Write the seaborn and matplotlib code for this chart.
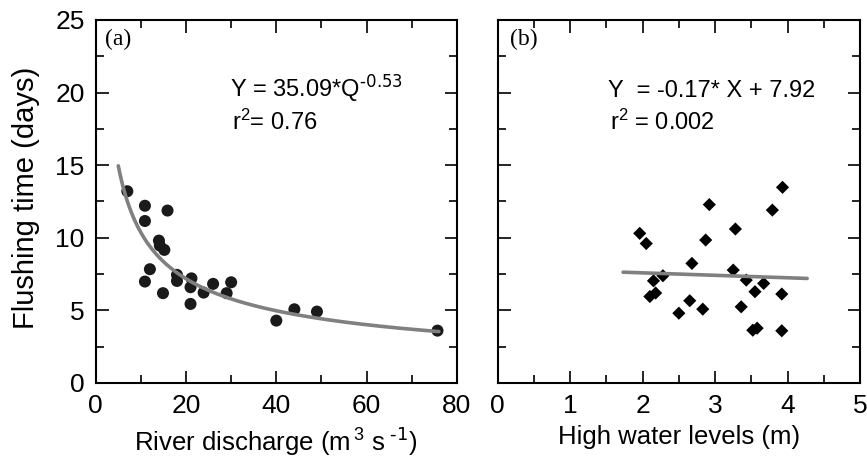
import numpy as np
import pandas as pd
import matplotlib
matplotlib.use("Agg")
import matplotlib.pyplot as plt
from matplotlib.ticker import MultipleLocator
import seaborn as sns

# Panel (a): river discharge vs flushing time
discharge = [7.0, 10.9, 10.9, 15.9, 14.0, 14.2, 15.2, 12.0, 10.9, 14.9, 18.0, 18.0,
             21.2, 21.0, 21.0, 23.9, 26.0, 29.0, 30.0, 40.0, 44.0, 49.0, 75.7]
flush_a = [13.2, 12.2, 11.15, 11.87, 9.8, 9.46, 9.16, 7.83, 6.98, 6.18, 7.44, 7.02,
           7.2, 6.59, 5.44, 6.22, 6.82, 6.18, 6.93, 4.29, 5.07, 4.91, 3.6]
fit_a_coef = 35.09
fit_a_exp = -0.53
fit_a_range = [5, 76]

# Panel (b): high water level vs flushing time
water_level = [1.96, 2.05, 2.15, 2.28, 2.10, 2.18, 2.50, 2.65, 2.68, 2.83, 2.87, 2.92,
               3.28, 3.25, 3.36, 3.43, 3.55, 3.67, 3.52, 3.58, 3.79, 3.93, 3.92, 3.92]
flush_b = [10.3, 9.6, 7.03, 7.38, 5.95, 6.19, 4.8, 5.66, 8.23, 5.08, 9.84, 12.28,
           10.6, 7.77, 5.24, 7.08, 6.28, 6.85, 3.63, 3.77, 11.9, 13.47, 6.12, 3.59]
fit_b_slope = -0.17
fit_b_icpt = 7.92
fit_b_range = [1.73, 4.27]

sns.set_style("ticks")
plt.rcParams['font.family'] = ['Liberation Sans', 'DejaVu Sans']
plt.rcParams['mathtext.default'] = 'regular'
plt.rcParams['text.color'] = 'black'
plt.rcParams['axes.labelcolor'] = 'black'
plt.rcParams['xtick.color'] = 'black'
plt.rcParams['ytick.color'] = 'black'
plt.rcParams['axes.unicode_minus'] = False

fig = plt.figure(figsize=(8.67, 4.63), dpi=100)
ax1 = fig.add_axes([0.1104, 0.173, 0.4166, 0.784])
ax2 = fig.add_axes([0.574, 0.173, 0.418, 0.784])

gray = '#808080'

# Panel a
qa = np.linspace(fit_a_range[0], fit_a_range[1], 200)
df_fit_a = pd.DataFrame({'x': qa, 'y': fit_a_coef * qa ** fit_a_exp})
sns.lineplot(data=df_fit_a, x='x', y='y', ax=ax1, color=gray, linewidth=2.6, zorder=3)
df_a = pd.DataFrame({'x': discharge, 'y': flush_a})
sns.scatterplot(data=df_a, x='x', y='y', ax=ax1, color='#1a1a1a', marker='o', s=75,
                edgecolor='none', zorder=2)

# Panel b
df_b = pd.DataFrame({'x': water_level, 'y': flush_b})
sns.scatterplot(data=df_b, x='x', y='y', ax=ax2, color='black', marker='D', s=45,
                edgecolor='none', zorder=2)
xb = np.array(fit_b_range)
df_fit_b = pd.DataFrame({'x': xb, 'y': fit_b_slope * xb + fit_b_icpt})
sns.lineplot(data=df_fit_b, x='x', y='y', ax=ax2, color=gray, linewidth=2.6, zorder=3)

for ax, xmax, xmaj, xmin in [(ax1, 80, 20, 10), (ax2, 5, 1, 0.5)]:
    ax.set_xlim(0, xmax)
    ax.set_ylim(0, 25)
    ax.xaxis.set_major_locator(MultipleLocator(xmaj))
    ax.xaxis.set_minor_locator(MultipleLocator(xmin))
    ax.yaxis.set_major_locator(MultipleLocator(5))
    ax.yaxis.set_minor_locator(MultipleLocator(2.5))
    ax.tick_params(which='both', direction='in', top=True, right=True, width=1.2,
                   color='black', labelcolor='black', labelsize=19, pad=8)
    ax.tick_params(which='major', length=9)
    ax.tick_params(which='minor', length=6)
    for sp in ax.spines.values():
        sp.set_visible(True)
        sp.set_linewidth(1.5)
        sp.set_color('black')

ax2.tick_params(axis='y', which='both', labelleft=False)

ax1.set_xlabel(r'River discharge (m$^{\,3}$ s$^{\text{ -1}}$)', fontsize=18.5, labelpad=5)
ax1.set_ylabel('Flushing time (days)', fontsize=21, labelpad=6)
ax1.yaxis.set_label_coords(-0.155, 0.51)
ax2.set_xlabel('High water levels (m)', fontsize=18.5, labelpad=5)
ax2.set_ylabel('')

ax1.text(0.025, 0.975, '(a)', transform=ax1.transAxes, ha='left', va='top',
         fontsize=17, family=['Liberation Serif', 'DejaVu Serif'])
ax2.text(0.035, 0.975, '(b)', transform=ax2.transAxes, ha='left', va='top',
         fontsize=17, family=['Liberation Serif', 'DejaVu Serif'])

ax1.text(0.372, 0.789, r'Y = 35.09*Q$^{\text{-0.53}}$', transform=ax1.transAxes,
         ha='left', va='baseline', fontsize=17)
ax1.text(0.377, 0.697, 'r$^{2}$= 0.76', transform=ax1.transAxes,
         ha='left', va='baseline', fontsize=17)
ax2.text(0.305, 0.789, 'Y  = -0.17* X + 7.92', transform=ax2.transAxes,
         ha='left', va='baseline', fontsize=17)
ax2.text(0.31, 0.697, 'r$^{2}$ = 0.002', transform=ax2.transAxes,
         ha='left', va='baseline', fontsize=17)

fig.savefig('out.png', dpi=100)
